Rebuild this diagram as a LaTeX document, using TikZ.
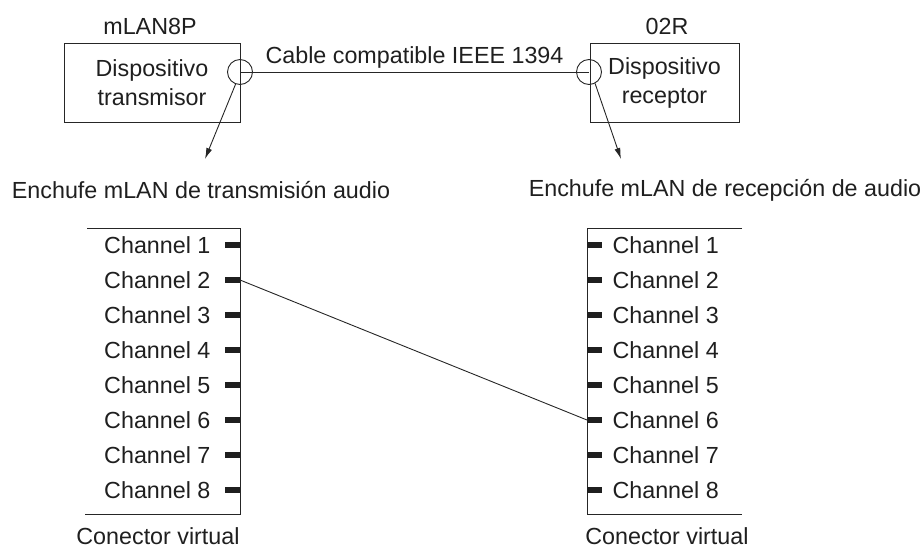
\documentclass[tikz,border=0pt]{standalone}
\usepackage{fontspec}
\setmainfont{Liberation Sans}
\usepackage{tikz}
\usetikzlibrary{arrows.meta,calc,positioning}

\begin{document}
\begin{tikzpicture}[
  x=1pt, y=-1pt,
  every node/.style={font=\fontsize{23.3}{29}\selectfont, text=black!88},
  dev/.style={draw=black!85, line width=1pt, align=center},
  port/.style={draw=black!85, line width=0.9pt, circle, minimum size=25pt, inner sep=0pt},
  stub/.style={fill=black!88, minimum width=15pt, minimum height=6pt, inner sep=0pt},
  wire/.style={draw=black!85, line width=0.9pt},
  arr/.style={-{Latex[length=11pt,width=6pt]}, wire}
]
\useasboundingbox (0,0) rectangle (924,552);

% devices
\node[dev, minimum width=176pt, minimum height=79pt] (tx) at (152,82.5) {Dispositivo\\transmisor};
\node[dev, minimum width=149pt, minimum height=79pt] (rx) at (664.5,82.5) {Dispositivo\\receptor};
\node (txname) at (150,26) {mLAN8P};
\node (rxname) at (667,26) {02R};

\node[port] (pt) at (240,72) {};
\node[port] (pr) at (589,72) {};
\draw[wire] (pt.center) -- node[above=0pt] {Cable compatible IEEE 1394} (pr.center);

% plugs
\node (plugtx) at (201,190) {Enchufe mLAN de transmisión audio};
\node (plugrx) at (725,190) {Enchufe mLAN de recepción de audio};
\coordinate (at) at (205,159);
\coordinate (ar) at (621,159);
\draw[arr] (pt.-110) -- (at);
\draw[arr] (pr.-62) -- (ar);

% virtual connectors
\draw[wire] (87,228) -| (240,514) -- (85,514);
\draw[wire] (742,228) -| (587,514) -- (742,514);
\foreach \i in {1,...,8} {
  \node[stub, anchor=east] (l\i) at (240,{245+35*(\i-1)}) {};
  \node[anchor=east] at (214,{245+35*(\i-1)}) {Channel \i};
  \node[stub, anchor=west] (r\i) at (587,{245+35*(\i-1)}) {};
  \node[anchor=west] at (609,{245+35*(\i-1)}) {Channel \i};
}
\draw[wire] (l2.east) -- (r6.west);

\node (vtx) at (158,536) {Conector virtual};
\node (vrx) at (667,536) {Conector virtual};
\end{tikzpicture}
\end{document}
